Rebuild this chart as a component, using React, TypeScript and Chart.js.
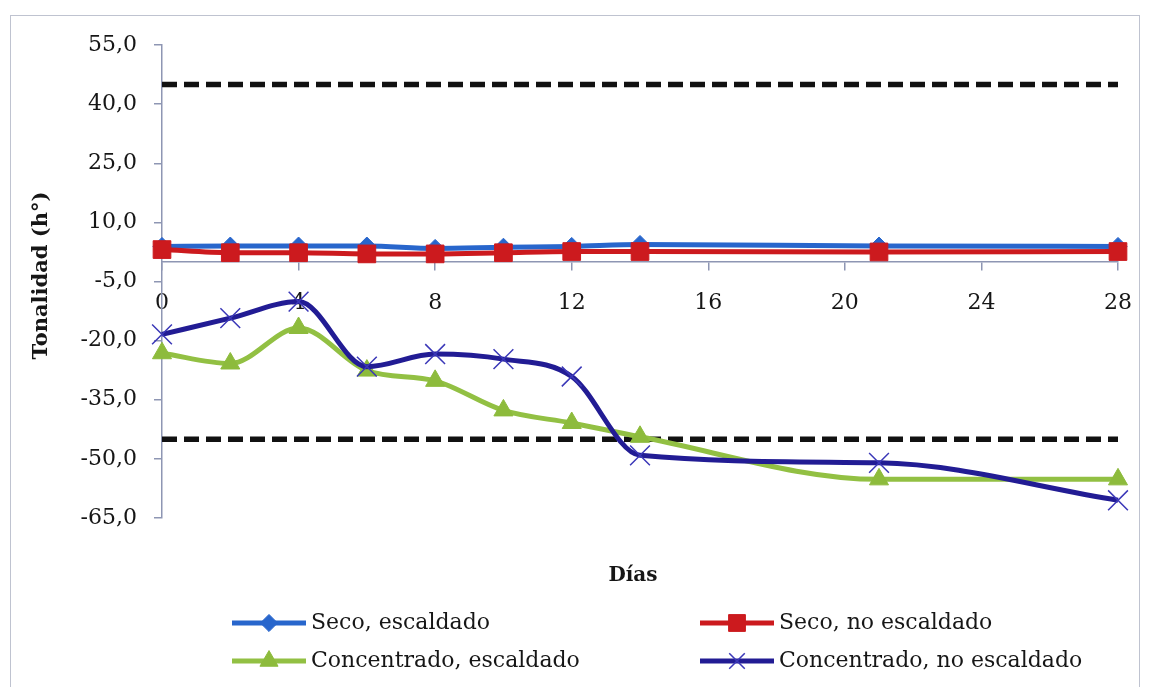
import React, { useEffect, useRef } from "react";
import { Chart, registerables } from "chart.js";

Chart.register(...registerables);

// Sampling days (x) and hue angle per treatment (y)
const days = [0, 2, 4, 6, 8, 10, 12, 14, 21, 28];
const secoEscaldado = [3.9, 4.0, 4.0, 4.0, 3.4, 3.7, 3.9, 4.4, 4.0, 3.9];
const secoNoEscaldado = [3.1, 2.3, 2.3, 2.0, 2.0, 2.3, 2.6, 2.6, 2.5, 2.6];
const concentradoEscaldado = [-23.2, -25.8, -16.8, -27.6, -30.2, -37.7, -40.9, -44.4, -55.2, -55.2];
const concentradoNoEscaldado = [-18.4, -14.3, -10.1, -26.6, -23.4, -24.7, -29.1, -49.1, -51.0, -60.5];

// Reference limits (dashed)
const upperLimit = 45;
const lowerLimit = -45;

// Axis ranges and tick steps
const xMin = 0;
const xMax = 28;
const xStep = 4;
const yMin = -65;
const yMax = 55;
const yStep = 15;

const seriesLabels = [
  "Seco, escaldado",
  "Seco, no escaldado",
  "Concentrado, escaldado",
  "Concentrado, no escaldado",
];
const yTitle = "Tonalidad (h°)";
const xTitle = "Días";

const AXIS_COLOR = "#8e96b3";
const TEXT_COLOR = "#161616";
const FONT = "'DejaVu Serif', serif";

const toPoints = (vals: number[]) => days.map((d, i) => ({ x: d, y: vals[i] }));
const limitLine = (v: number) => [
  { x: days[0], y: v },
  { x: days[days.length - 1], y: v },
];

function drawMarker(
  ctx: CanvasRenderingContext2D,
  style: string,
  x: number,
  y: number,
  r: number,
  fill: string,
  stroke: string,
  bw: number
) {
  ctx.beginPath();
  if (style === "rectRot") {
    ctx.moveTo(x - r, y);
    ctx.lineTo(x, y - r);
    ctx.lineTo(x + r, y);
    ctx.lineTo(x, y + r);
    ctx.closePath();
  } else if (style === "rect") {
    const s = Math.SQRT1_2 * r;
    ctx.rect(x - s, y - s, 2 * s, 2 * s);
  } else if (style === "triangle") {
    ctx.moveTo(x, y - r);
    ctx.lineTo(x + r * Math.sin((2 * Math.PI) / 3), y + r / 2);
    ctx.lineTo(x - r * Math.sin((2 * Math.PI) / 3), y + r / 2);
    ctx.closePath();
  } else if (style === "crossRot") {
    const o = Math.SQRT1_2 * r;
    ctx.moveTo(x - o, y - o);
    ctx.lineTo(x + o, y + o);
    ctx.moveTo(x + o, y - o);
    ctx.lineTo(x - o, y + o);
  }
  if (style !== "crossRot") {
    ctx.fillStyle = fill;
    ctx.fill();
  }
  ctx.lineWidth = bw;
  ctx.strokeStyle = stroke;
  ctx.stroke();
}

// Axis titles and a two-column legend under the plot
const titlesAndLegend = {
  id: "titlesAndLegend",
  afterDraw(chart: any) {
    const ctx: CanvasRenderingContext2D = chart.ctx;
    const area = chart.chartArea;
    ctx.save();
    ctx.fillStyle = TEXT_COLOR;
    ctx.textAlign = "center";
    ctx.textBaseline = "middle";

    ctx.font = `bold 21px ${FONT}`;
    ctx.save();
    ctx.translate(42, (area.top + area.bottom) / 2 - 6);
    ctx.rotate(-Math.PI / 2);
    ctx.fillText(yTitle, 0, 0);
    ctx.restore();

    ctx.font = `bold 20px ${FONT}`;
    ctx.fillText(xTitle, (area.left + area.right) / 2 - 7, area.bottom + 58);

    const entries = chart.data.datasets.filter((d: any) => d.inLegend);
    const colX = [232, 700];
    const rowY = [area.bottom + 105, area.bottom + 143];
    const lineLen = 74;
    entries.forEach((ds: any, i: number) => {
      const x0 = colX[i % 2];
      const y0 = rowY[Math.floor(i / 2)];
      ctx.beginPath();
      ctx.moveTo(x0, y0);
      ctx.lineTo(x0 + lineLen, y0);
      ctx.lineWidth = ds.borderWidth;
      ctx.strokeStyle = ds.borderColor;
      ctx.lineCap = "butt";
      ctx.stroke();
      drawMarker(
        ctx,
        ds.pointStyle,
        x0 + lineLen / 2,
        y0,
        ds.pointStyle === "crossRot" ? 11 : ds.pointRadius * 0.95,
        ds.pointBackgroundColor,
        ds.pointBorderColor,
        ds.pointBorderWidth
      );
      ctx.font = `22px ${FONT}`;
      ctx.fillStyle = TEXT_COLOR;
      ctx.textAlign = "left";
      ctx.textBaseline = "middle";
      ctx.fillText(ds.label, x0 + lineLen + 5, y0);
    });
    ctx.restore();
  },
};

export default function App() {
  const canvasRef = useRef<HTMLCanvasElement | null>(null);

  useEffect(() => {
    if (!canvasRef.current) return;
    const tickFont = { family: FONT, size: 22 };
    const seriesCommon = {
      borderWidth: 5,
      pointBorderWidth: 1,
      cubicInterpolationMode: "monotone",
      clip: false,
    };
    const chart = new Chart(canvasRef.current, {
      type: "line",
      data: {
        datasets: [
          {
            ...seriesCommon,
            label: seriesLabels[0],
            inLegend: true,
            data: toPoints(secoEscaldado),
            borderColor: "#2866cc",
            pointStyle: "rectRot",
            pointRadius: 9,
            pointBackgroundColor: "#2866cc",
            pointBorderColor: "#2866cc",
            order: 4,
          },
          {
            ...seriesCommon,
            label: seriesLabels[1],
            inLegend: true,
            data: toPoints(secoNoEscaldado),
            borderColor: "#cc1a1e",
            pointStyle: "rect",
            pointRadius: 12.5,
            pointBackgroundColor: "#cc1a1e",
            pointBorderColor: "#cc1a1e",
            order: 3,
          },
          {
            ...seriesCommon,
            label: seriesLabels[2],
            inLegend: true,
            data: toPoints(concentradoEscaldado),
            borderColor: "#92c043",
            pointStyle: "triangle",
            pointRadius: 11,
            pointBackgroundColor: "#8dbb3c",
            pointBorderColor: "#8dbb3c",
            order: 2,
          },
          {
            ...seriesCommon,
            label: seriesLabels[3],
            inLegend: true,
            data: toPoints(concentradoNoEscaldado),
            borderColor: "#221c94",
            pointStyle: "crossRot",
            pointRadius: 14,
            pointBackgroundColor: "#3b38b8",
            pointBorderColor: "#3b38b8",
            pointBorderWidth: 1.5,
            order: 1,
          },
          {
            label: "upper",
            data: limitLine(upperLimit),
            borderColor: "#111111",
            borderWidth: 5.5,
            borderDash: [15, 7],
            pointRadius: 0,
            tension: 0,
            clip: false,
            order: 6,
          },
          {
            label: "lower",
            data: limitLine(lowerLimit),
            borderColor: "#111111",
            borderWidth: 5.5,
            borderDash: [15, 7],
            pointRadius: 0,
            tension: 0,
            clip: false,
            order: 5,
          },
        ] as any,
      },
      options: {
        responsive: false,
        animation: false,
        devicePixelRatio: 1,
        layout: { padding: { left: 18, right: 31, top: 45, bottom: 169 } },
        plugins: {
          legend: { display: false },
          tooltip: { enabled: false },
        },
        scales: {
          x: {
            type: "linear",
            position: { y: 0 } as any,
            min: xMin,
            max: xMax,
            ticks: {
              stepSize: xStep,
              font: tickFont,
              color: TEXT_COLOR,
              padding: 20,
              maxRotation: 0,
              autoSkip: false,
            },
            grid: { drawOnChartArea: false, tickLength: 8, color: AXIS_COLOR, lineWidth: 1.5 },
            border: { color: AXIS_COLOR, width: 1.5 },
            afterFit(scale: any) {
              scale.paddingLeft = 0;
              scale.paddingRight = 0;
            },
          },
          y: {
            type: "linear",
            min: yMin,
            max: yMax,
            ticks: {
              stepSize: yStep,
              font: tickFont,
              color: TEXT_COLOR,
              padding: 17,
              callback: (v: any) => Number(v).toFixed(1).replace(".", ","),
            },
            grid: { drawOnChartArea: false, tickLength: 8, color: AXIS_COLOR, lineWidth: 1.5 },
            border: { color: AXIS_COLOR, width: 1.5 },
            afterFit(scale: any) {
              scale.width = 144;
              scale.paddingTop = 0;
              scale.paddingBottom = 0;
            },
          },
        },
      },
      plugins: [titlesAndLegend],
    });
    return () => chart.destroy();
  }, []);

  return (
    <div style={{ position: "fixed", left: 0, top: 0, width: 1149, height: 687, background: "#ffffff" }}>
      <div
        style={{
          position: "absolute",
          left: 10,
          top: 15,
          width: 1130,
          height: 700,
          border: "1.5px solid #bfc3d0",
          boxSizing: "border-box",
        }}
      />
      <canvas
        ref={canvasRef}
        width={1149}
        height={687}
        style={{ position: "absolute", left: 0, top: 0, width: 1149, height: 687 }}
      />
    </div>
  );
}
